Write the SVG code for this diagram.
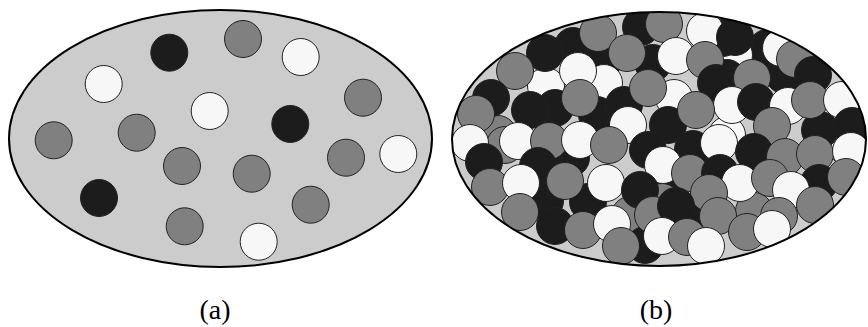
<svg xmlns="http://www.w3.org/2000/svg" width="868" height="327" viewBox="0 0 868 327">
<style>
.bg{fill:#cccccc;stroke:none}
.ol{fill:none;stroke:#000;stroke-width:2}
circle{stroke:#222;stroke-width:1}
.k{fill:#1c1c1c}
.g{fill:#808080}
.w{fill:#f7f7f7}
.lbl{font-family:"Liberation Serif","DejaVu Serif",serif;font-size:28px;text-anchor:middle;fill:#000}
</style>
<defs>
<clipPath id="clipB"><ellipse cx="659" cy="139" rx="207" ry="127"/></clipPath>
</defs>
<g id="panel-a">
<ellipse class="bg" cx="220.5" cy="138.5" rx="211.5" ry="128.5"/>
<g id="particles-a">
<circle class="k" cx="169.3" cy="52.7" r="18.5"/>
<circle class="g" cx="243" cy="39" r="18.5"/>
<circle class="w" cx="300.7" cy="57" r="18.5"/>
<circle class="w" cx="103.7" cy="84" r="18.5"/>
<circle class="w" cx="209.7" cy="111" r="18.5"/>
<circle class="k" cx="290.3" cy="124" r="18.5"/>
<circle class="g" cx="363" cy="97.7" r="18.5"/>
<circle class="g" cx="53.7" cy="140.3" r="18.5"/>
<circle class="g" cx="136.7" cy="132.7" r="18.5"/>
<circle class="g" cx="182" cy="166" r="18.5"/>
<circle class="g" cx="251.7" cy="173.7" r="18.5"/>
<circle class="g" cx="346" cy="157.7" r="18.5"/>
<circle class="w" cx="398.3" cy="154" r="18.5"/>
<circle class="k" cx="99" cy="198" r="18.5"/>
<circle class="g" cx="310.7" cy="204.7" r="18.5"/>
<circle class="g" cx="184.7" cy="226.3" r="18.5"/>
<circle class="w" cx="258.7" cy="241.7" r="18.5"/>
</g>
<ellipse class="ol" cx="220.5" cy="138.5" rx="211.5" ry="128.5"/>
</g>
<g id="panel-b">
<ellipse class="bg" cx="659" cy="139" rx="207" ry="127"/>
<g id="particles-b" clip-path="url(#clipB)">
<circle class="k" cx="573" cy="46" r="18.5"/>
<circle class="k" cx="641" cy="27" r="18.5"/>
<circle class="k" cx="603" cy="61" r="18.5"/>
<circle class="k" cx="653" cy="63" r="18.5"/>
<circle class="w" cx="546" cy="86" r="18.5"/>
<circle class="w" cx="604" cy="83" r="18.5"/>
<circle class="k" cx="555" cy="108" r="18.5"/>
<circle class="w" cx="674" cy="98" r="18.5"/>
<circle class="k" cx="767" cy="48" r="18.5"/>
<circle class="k" cx="784" cy="75" r="18.5"/>
<circle class="w" cx="734" cy="55" r="18.5"/>
<circle class="k" cx="727" cy="78" r="18.5"/>
<circle class="k" cx="723" cy="38" r="18.5"/>
<circle class="g" cx="498" cy="134" r="18.5"/>
<circle class="g" cx="505" cy="145" r="18.5"/>
<circle class="k" cx="571" cy="158" r="18.5"/>
<circle class="k" cx="545" cy="201" r="18.5"/>
<circle class="k" cx="588" cy="202" r="18.5"/>
<circle class="w" cx="848" cy="148" r="18.5"/>
<circle class="k" cx="668" cy="198" r="18.5"/>
<circle class="g" cx="630" cy="215" r="18.5"/>
<circle class="k" cx="645" cy="245" r="18.5"/>
<circle class="k" cx="699" cy="213" r="18.5"/>
<circle class="g" cx="662" cy="202" r="18.5"/>
<circle class="k" cx="820" cy="130" r="18.5"/>
<circle class="w" cx="727" cy="135" r="18.5"/>
<circle class="g" cx="754" cy="211" r="18.5"/>
<circle class="k" cx="597" cy="115" r="18.5"/>
<circle class="k" cx="624" cy="105" r="18.5"/>
<circle class="w" cx="628" cy="125" r="18.5"/>
<circle class="k" cx="668" cy="125" r="18.5"/>
<circle class="g" cx="598" cy="33" r="18.5"/>
<circle class="g" cx="664" cy="24" r="18.5"/>
<circle class="w" cx="705" cy="31" r="18.5"/>
<circle class="k" cx="735" cy="37" r="18.5"/>
<circle class="w" cx="781" cy="48" r="18.5"/>
<circle class="g" cx="795" cy="59" r="18.5"/>
<circle class="k" cx="813" cy="75" r="18.5"/>
<circle class="k" cx="545" cy="53" r="18.5"/>
<circle class="g" cx="515" cy="71" r="18.5"/>
<circle class="w" cx="578" cy="71" r="18.5"/>
<circle class="g" cx="627" cy="53" r="18.5"/>
<circle class="w" cx="676" cy="56" r="18.5"/>
<circle class="g" cx="705" cy="60" r="18.5"/>
<circle class="k" cx="491" cy="98" r="18.5"/>
<circle class="g" cx="476" cy="114" r="18.5"/>
<circle class="k" cx="530" cy="110" r="18.5"/>
<circle class="g" cx="580" cy="98" r="18.5"/>
<circle class="k" cx="716" cy="83" r="18.5"/>
<circle class="g" cx="648" cy="88" r="18.5"/>
<circle class="g" cx="752" cy="78" r="18.5"/>
<circle class="w" cx="732" cy="105" r="18.5"/>
<circle class="k" cx="756" cy="102" r="18.5"/>
<circle class="w" cx="788" cy="106" r="18.5"/>
<circle class="g" cx="810" cy="100" r="18.5"/>
<circle class="w" cx="842" cy="100" r="18.5"/>
<circle class="g" cx="696" cy="110" r="18.5"/>
<circle class="g" cx="772" cy="126" r="18.5"/>
<circle class="k" cx="852" cy="126" r="18.5"/>
<circle class="w" cx="470" cy="143" r="18.5"/>
<circle class="w" cx="518" cy="141" r="18.5"/>
<circle class="g" cx="549" cy="141" r="18.5"/>
<circle class="w" cx="580" cy="140" r="18.5"/>
<circle class="g" cx="609" cy="145" r="18.5"/>
<circle class="k" cx="648" cy="150" r="18.5"/>
<circle class="k" cx="693" cy="149" r="18.5"/>
<circle class="w" cx="719" cy="143" r="18.5"/>
<circle class="k" cx="754" cy="152" r="18.5"/>
<circle class="g" cx="785" cy="157" r="18.5"/>
<circle class="g" cx="815" cy="154" r="18.5"/>
<circle class="w" cx="851" cy="151" r="18.5"/>
<circle class="k" cx="484" cy="162" r="18.5"/>
<circle class="k" cx="538" cy="166" r="18.5"/>
<circle class="w" cx="663" cy="165" r="18.5"/>
<circle class="g" cx="690" cy="173" r="18.5"/>
<circle class="k" cx="720" cy="173" r="18.5"/>
<circle class="w" cx="606" cy="183" r="18.5"/>
<circle class="g" cx="490" cy="187" r="18.5"/>
<circle class="w" cx="521" cy="183" r="18.5"/>
<circle class="g" cx="565" cy="181" r="18.5"/>
<circle class="k" cx="640" cy="190" r="18.5"/>
<circle class="w" cx="740" cy="183" r="18.5"/>
<circle class="g" cx="770" cy="178" r="18.5"/>
<circle class="k" cx="819" cy="183" r="18.5"/>
<circle class="g" cx="846" cy="177" r="18.5"/>
<circle class="g" cx="709" cy="193" r="18.5"/>
<circle class="w" cx="791" cy="190" r="18.5"/>
<circle class="g" cx="520" cy="212" r="18.5"/>
<circle class="k" cx="555" cy="226" r="18.5"/>
<circle class="g" cx="583" cy="230" r="18.5"/>
<circle class="w" cx="612" cy="224" r="18.5"/>
<circle class="g" cx="653" cy="215" r="18.5"/>
<circle class="k" cx="676" cy="206" r="18.5"/>
<circle class="g" cx="718" cy="216" r="18.5"/>
<circle class="g" cx="779" cy="216" r="18.5"/>
<circle class="g" cx="815" cy="205" r="18.5"/>
<circle class="g" cx="621" cy="246" r="18.5"/>
<circle class="w" cx="662" cy="236" r="18.5"/>
<circle class="g" cx="687" cy="237" r="18.5"/>
<circle class="w" cx="706" cy="246" r="18.5"/>
<circle class="g" cx="747" cy="232" r="18.5"/>
<circle class="w" cx="772" cy="229" r="18.5"/>
</g>
<ellipse class="ol" cx="659" cy="139" rx="207" ry="127"/>
</g>
<g id="labels">
<text class="lbl" x="215" y="319">(a)</text>
<text class="lbl" x="656" y="319">(b)</text>
</g>
</svg>
